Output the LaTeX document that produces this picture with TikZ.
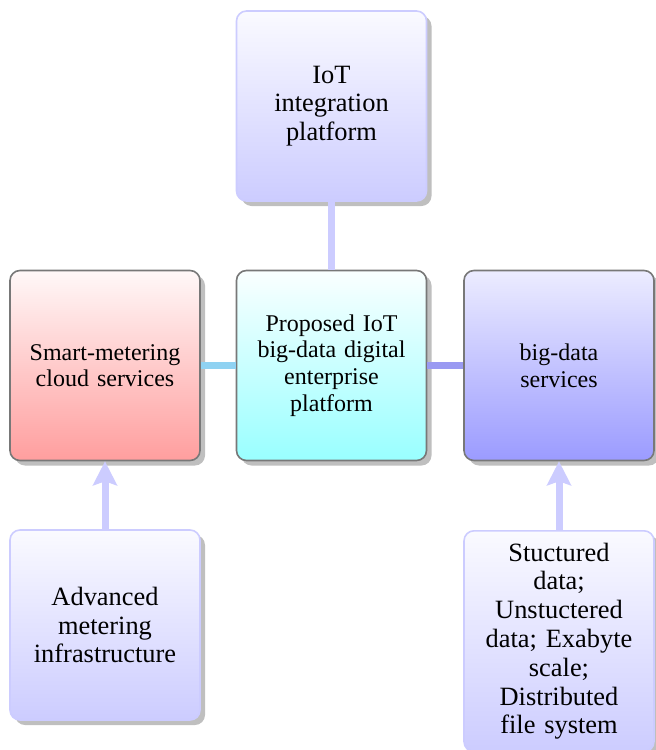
\documentclass[tikz,border=0pt]{standalone}
\usepackage{fontspec}
\setmainfont{Liberation Serif}
\usetikzlibrary{shadows,arrows.meta}
\definecolor{lav}{RGB}{204,204,255}
\definecolor{lavtop}{RGB}{250,250,255}
\definecolor{rtop}{RGB}{236,236,255}
\definecolor{rbot}{RGB}{155,155,255}
\definecolor{ltop}{RGB}{255,248,248}
\definecolor{lbot}{RGB}{255,158,158}
\definecolor{ctop}{RGB}{250,255,255}
\definecolor{cbot}{RGB}{153,255,255}
\definecolor{bordergray}{RGB}{120,120,120}
\definecolor{cyanline}{RGB}{143,210,242}
\definecolor{blueline}{RGB}{154,154,242}
\begin{document}
\begin{tikzpicture}[x=0.5pt,y=-0.5pt,
  box/.style={rounded corners=5pt, minimum width=95pt, minimum height=95pt,
    text width=83pt, align=center, inner sep=6pt, line width=0.8pt,
    drop shadow={shadow xshift=2.5pt, shadow yshift=-2.5pt, fill=black!25, opacity=1}},
  satbox/.style={box, draw=lav, top color=lavtop, bottom color=lav,
    font=\fontsize{13.2}{14.4}\selectfont},
  midbox/.style={box, draw=bordergray, font=\fontsize{12}{13.3}\selectfont},
  link/.style={line width=3.8pt},
  uparrow/.style={line width=3.5pt, draw=lav, -{Stealth[length=12pt,width=12pt,inset=2pt]}}]
\useasboundingbox (0,0) rectangle (656,750);
\node[satbox] (top) at (331.5,106) {IoT\\integration\\platform};
\node[midbox, top color=ctop, bottom color=cbot] (center) at (331.5,365.5) {Proposed IoT\\big-data digital\\enterprise\\platform};
\node[midbox, top color=ltop, bottom color=lbot] (left) at (105,365.5) {Smart-metering\\cloud services};
\node[midbox, top color=rtop, bottom color=rbot] (right) at (559,365.5) {big-data\\services};
\node[satbox] (bl) at (105,625) {Advanced\\metering\\infrastructure};
\node[satbox, anchor=north] (br) at (559,530) {Stuctured\\data;\\Unstuctered\\data; Exabyte\\scale;\\Distributed\\file system};
\draw[link, draw=lav] (top.south) -- (center.north);
\draw[link, draw=cyanline] (center.west) -- (left.east);
\draw[link, draw=blueline] (center.east) -- (right.west);
\draw[uparrow] (bl.north) -- (left.south);
\draw[uparrow] (br.north) -- (right.south);
\end{tikzpicture}
\end{document}
